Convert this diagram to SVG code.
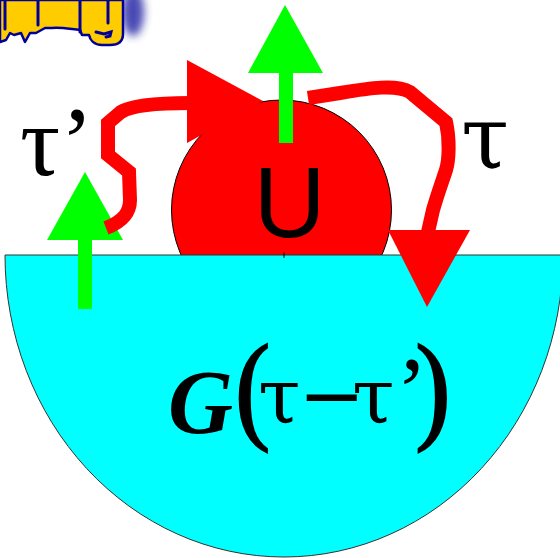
<svg xmlns="http://www.w3.org/2000/svg" width="560" height="558" viewBox="0 0 560 558">
<defs>
<style>
.red{fill:#FF0000}
.grn{fill:#00FF00}
.wire{fill:none;stroke:#FF0000;stroke-width:14;stroke-linejoin:miter;stroke-linecap:butt}
.serif{font-family:"Liberation Serif","Times New Roman",serif;fill:#000}
.tau{font-family:"DejaVu Serif","Liberation Serif",serif;fill:#000}
.sans{font-family:"Liberation Sans",Arial,sans-serif;fill:#000}
.dsans{font-family:"DejaVu Sans",sans-serif;fill:#000}
</style>
<filter id="blur" x="-50%" y="-50%" width="200%" height="200%"><feGaussianBlur stdDeviation="4"/></filter>
</defs>
<rect width="560" height="558" fill="#fff"/>

<g id="logo">
<ellipse cx="133" cy="12" rx="11" ry="24" fill="#2a2aa8" opacity="0.85" filter="url(#blur)"/>
<path d="M0,0 L123,0 L123,34 C123,42 118,45 110,45 L102,45 C94,45 90,40 89,35 L82,35 L80,30 C70,29 60,27 52,28 L45,28 L36,33 L30,33 L25,42 L21,33 L14,35 L10,33 L6,40 L0,42 Z" fill="#FFCC00" stroke="#000099" stroke-width="2.5" stroke-linejoin="round"/>
<g stroke="#000099" stroke-width="3" stroke-linecap="round" fill="none">
<line x1="5" y1="0" x2="5" y2="29"/>
<line x1="38" y1="0" x2="38" y2="25"/>
<line x1="80" y1="0" x2="80" y2="32"/>
<line x1="108" y1="0" x2="108" y2="23"/>
<path d="M96,32 L104,34 L111,32 L110,36 L106,37"/>
</g>
</g>

<g id="U">
<circle cx="281.5" cy="210" r="110" class="red" stroke="#000" stroke-width="1"/>
</g>

<g id="G">
<path d="M5,255 A279,302 0 0 0 563,255 Z" fill="#00FFFF" stroke="#333" stroke-width="1"/>
<line x1="284" y1="252" x2="284" y2="258" stroke="#000" stroke-width="1"/>
</g>

<g id="spin-up-center">
<rect x="279" y="72" width="14" height="71" class="grn"/>
<polygon points="248,73 323,73 285,5" class="grn"/>
</g>

<g id="spin-up-left">
<rect x="78" y="239" width="14" height="70" class="grn"/>
<polygon points="47,240 123,240 85,172" class="grn"/>
</g>

<g id="connectors">
<path class="wire" d="M190,103 C160,103 132,105 121,112 L108,123 L108,155 L129,172 L130,200 C130,212 124,221 106,228"/>
<polygon points="187,60 187,143 263,101" class="red"/>
<path class="wire" d="M308,98 L340,93 C370,88 396,84 410,92 L446,122 C450,140 449,160 446,170 C441,185 437,196 433,210 L428,232"/>
<polygon points="388,230 470,230 427,307" class="red"/>
</g>

<g id="labels">
<text class="serif" x="20" y="175" font-size="100">τ’</text>
<text class="tau" x="461" y="168" font-size="87">τ</text>
<text class="sans" x="289.5" y="237" font-size="100" text-anchor="middle">U</text>
</g>

<g id="G-label">
<text class="serif" x="168 229 258 298 352 396 409" y="433 435 423 423 423 423 435"><tspan font-size="90" font-weight="bold" font-style="italic">G</tspan><tspan class="tau" font-size="122">(</tspan><tspan class="tau" font-size="77">τ</tspan><tspan class="dsans" font-size="80">−</tspan><tspan class="tau" font-size="77">τ</tspan><tspan font-size="95">’</tspan><tspan class="tau" font-size="122">)</tspan></text>
</g>
</svg>
